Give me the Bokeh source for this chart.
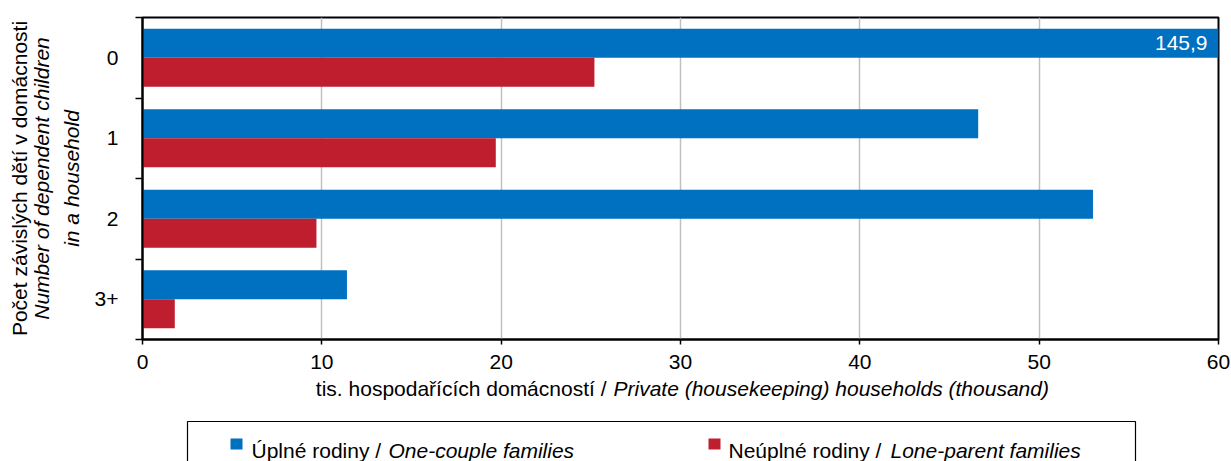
import math
from bokeh.plotting import figure
from bokeh.models import Range1d, FixedTicker, Label, ColumnDataSource, Title
from bokeh.layouts import column
from bokeh.embed import file_html
from bokeh.resources import INLINE

# ---- data ----
categories = ["0", "1", "2", "3+"]
one_couple = [145.9, 46.6, 53.0, 11.4]
lone_parent = [25.2, 19.7, 9.7, 1.8]
x_ticks = [0, 10, 20, 30, 40, 50, 60]
series_names = [("Úplné rodiny /", "One-couple families"),
                ("Neúplné rodiny /", "Lone-parent families")]
x_title = ("tis. hospodařících domácností /", "Private (housekeeping) households (thousand)")
y_title = [("Počet závislých dětí v domácnosti", "normal"),
           ("Number of dependent children", "italic"),
           ("in a household", "italic")]
BLUE = "#0070c0"
RED = "#be1e2d"
FONT = "Liberation Sans"
FS = "21px"

W = 1231
n = len(categories)
ypos = [n - i - 0.5 for i in range(n)]

p = figure(width=W, height=379, x_range=Range1d(0, 60), y_range=Range1d(0, n),
           output_backend="svg", toolbar_location=None,
           min_border_left=142, min_border_right=13, min_border_top=17, min_border_bottom=40)
p.background_fill_color = "white"
p.border_fill_color = "white"
p.outline_line_color = "black"
p.outline_line_width = 2

src = ColumnDataSource(dict(cat=categories, y=ypos, a=one_couple, b=lone_parent,
                            ya=[y + 0.18 for y in ypos], yb=[y - 0.18 for y in ypos]))
p.hbar(y="ya", left=0, right="a", height=0.36, source=src, color=BLUE, line_color=None)
p.hbar(y="yb", left=0, right="b", height=0.36, source=src, color=RED, line_color=None)

# grid
p.ygrid.visible = False
p.xgrid.grid_line_color = "#c0c0c0"
p.xgrid.grid_line_width = 1.5
p.xgrid.ticker = FixedTicker(ticks=x_ticks)

# x axis
xa = p.xaxis[0]
xa.ticker = FixedTicker(ticks=x_ticks)
xa.axis_line_color = "black"
xa.axis_line_width = 2
xa.major_tick_out = 5
xa.major_tick_in = 0
xa.major_tick_line_width = 1.5
xa.minor_tick_out = 0
xa.minor_tick_in = 0
xa.major_label_text_font = FONT
xa.major_label_text_font_size = FS
xa.major_label_text_color = "black"
xa.major_label_standoff = 10

# y axis
ya = p.yaxis[0]
ya.ticker = FixedTicker(ticks=ypos, minor_ticks=list(range(n + 1)))
ya.major_label_overrides = {float(y): c for y, c in zip(ypos, categories)}
ya.axis_line_color = "black"
ya.axis_line_width = 2
ya.major_tick_out = 0
ya.major_tick_in = 0
ya.minor_tick_out = 7
ya.minor_tick_in = 0
ya.minor_tick_line_color = "black"
ya.minor_tick_line_width = 1.5
ya.major_label_text_font = FONT
ya.major_label_text_font_size = FS
ya.major_label_text_color = "black"
ya.major_label_standoff = 17

# y axis title: three stacked titles on the left (innermost first)
standoffs = [1, -8, 18]  # outer ... inner
for (txt, style), so in reversed(list(zip(y_title, standoffs))):
    p.add_layout(Title(text=txt, align="center", text_font=FONT, text_font_size=FS,
                       text_font_style=style, text_color="black", standoff=so, offset=11),
                 "left")

# value label for clipped bar
p.add_layout(Label(x=60, y=ypos[0] + 0.18, x_offset=-11, text=f"{one_couple[0]:.1f}".replace(".", ","),
                   text_align="right", text_baseline="middle", text_color="white",
                   text_font=FONT, text_font_size=FS))

# ---- bottom figure: x title + legend (data coords = page px; frame aligned with main) ----
OVER = 12
H2 = 82 + OVER
bot = figure(width=W, height=H2, x_range=Range1d(142, 1218), y_range=Range1d(0, H2),
             output_backend="svg", toolbar_location=None,
             x_axis_location=None, y_axis_location=None, min_border=0,
             margin=(-OVER, 0, 0, 0))
bot.grid.visible = False
bot.outline_line_color = None
bot.background_fill_alpha = 0
bot.border_fill_alpha = 0

def py(page_y):
    return 461 - page_y

bot.add_layout(Label(x=606, y=py(388), text=x_title[0], text_align="right",
                     text_baseline="alphabetic", text_font=FONT, text_font_size=FS,
                     text_color="black"))
bot.add_layout(Label(x=613, y=py(388), text=x_title[1], text_align="left",
                     text_baseline="alphabetic", text_font=FONT, text_font_size=FS,
                     text_font_style="italic", text_color="black"))

bot.quad(left=[187], right=[1135], top=[py(421)], bottom=[-10], fill_color=None,
         line_color="black", line_width=1.2)
colors = [BLUE, RED]
sq_x = [236, 714]
txt_x = [251, 728]
it_x = [388, 890]
for (norm, ital), c, sx, tx, ix in zip(series_names, colors, sq_x, txt_x, it_x):
    bot.rect(x=[sx], y=[py(443.5)], width=12, height=11, color=c, line_color=None)
    bot.add_layout(Label(x=tx, y=py(450), text=norm, text_align="left", text_baseline="alphabetic",
                         text_font=FONT, text_font_size=FS, text_color="black"))
    bot.add_layout(Label(x=ix, y=py(450), text=ital, text_align="left", text_baseline="alphabetic",
                         text_font=FONT, text_font_size=FS, text_font_style="italic",
                         text_color="black"))

layout = column(p, bot, spacing=0)
open("out.html", "w").write(file_html(layout, INLINE))
